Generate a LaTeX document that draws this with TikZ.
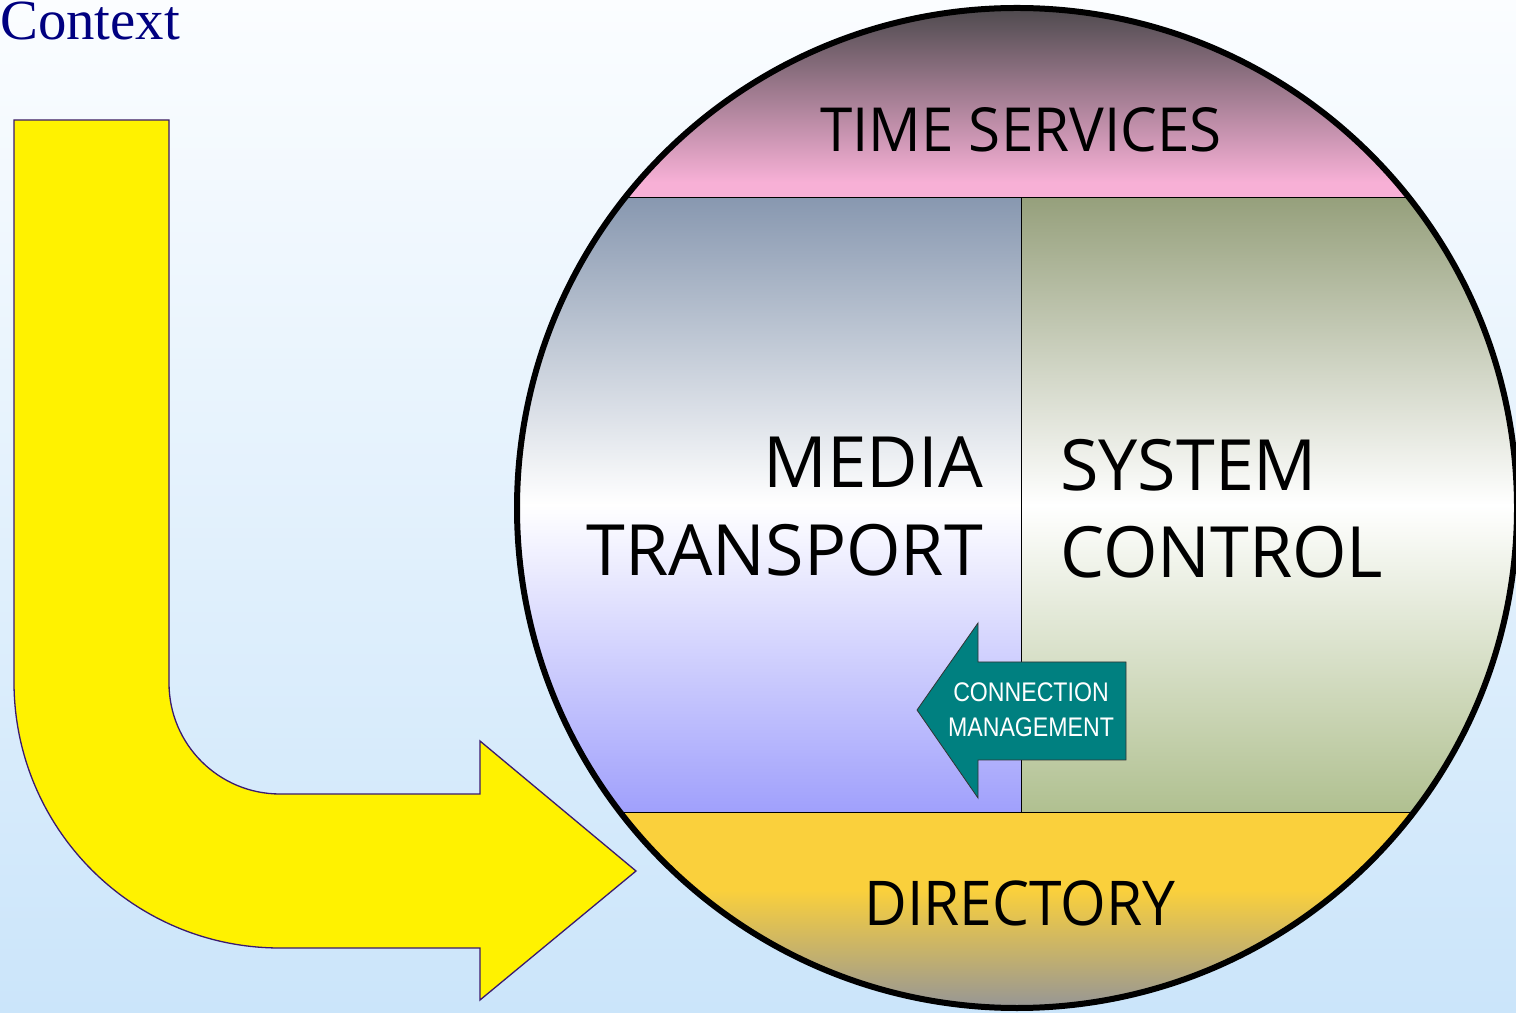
\documentclass[tikz,border=0pt]{standalone}
\usepackage{fontspec}
\setmainfont{Liberation Serif}
\newfontfamily\osans{Open Sans}
\newfontfamily\arialf{Liberation Sans}
\usetikzlibrary{shapes.geometric}
\definecolor{bgtop}{HTML}{FBFDFF}
\definecolor{bgbot}{HTML}{CBE5FA}
\definecolor{pinkdark}{HTML}{4E4A4E}
\definecolor{pinklight}{HTML}{F7B0D6}
\definecolor{mtop}{HTML}{8898B0}
\definecolor{mbot}{HTML}{A0A0FC}
\definecolor{stop}{HTML}{96A07C}
\definecolor{sbot}{HTML}{B0C090}
\definecolor{diryel}{HTML}{FAD03C}
\definecolor{dirgray}{HTML}{969696}
\definecolor{arrowline}{HTML}{3A1A70}
\definecolor{tealc}{HTML}{008080}
\definecolor{ctxblue}{HTML}{000080}
\tikzset{
  bigtext/.style={inner sep=0pt, font=\osans\fontsize{71}{80}\selectfont, text=black},
  bandtext/.style={inner sep=0pt, text=black},
  cmtext/.style={inner sep=0pt, text=white, font=\arialf\fontsize{27}{30}\selectfont},
  sepline/.style={draw=black, line width=1bp}
}
\begin{document}
\begin{tikzpicture}[x=1bp,y=1bp]
\useasboundingbox (0,0) rectangle (1516,1012);
% background
\fill[top color=bgtop, bottom color=bgbot] (0,0) rectangle (1516,1012);

% circle content
\begin{scope}
  \clip (1017,504) circle (500);
  \fill[top color=pinkdark, bottom color=pinklight] (500,830) rectangle (1530,1004);
  \fill[pinklight] (500,814) rectangle (1530,830);
  \fill[top color=mtop, bottom color=mbot, middle color=white] (500,200) rectangle (1021,814);
  \fill[top color=stop, bottom color=sbot, middle color=white] (1021,200) rectangle (1530,814);
  \fill[diryel] (500,122) rectangle (1530,200);
  \fill[top color=diryel, bottom color=dirgray] (500,4) rectangle (1530,122);
  \draw[sepline] (500,814) -- (1530,814);
  \draw[sepline] (500,200) -- (1530,200);
  \draw[sepline] (1021,200) -- (1021,814);
\end{scope}
\draw[line width=6bp, black] (1017,504) circle (500);

% yellow bent arrow
\draw[fill=yellow, draw=arrowline, line width=1.3bp]
  (14,892) -- (169,892) -- (169,329)
  arc[start angle=180, end angle=270, radius=111]
  -- (480,218) -- (480,271) -- (636,141) -- (480,12) -- (480,64) -- (280,64)
  arc[start angle=270, end angle=180, radius=266]
  -- cycle;

% connection management arrow
\draw[fill=tealc, draw=black!80, line width=0.8bp]
  (917,302) -- (978,389) -- (978,350) -- (1126,350) -- (1126,252) -- (978,252) -- (978,214) -- cycle;

% texts
\node[anchor=base west, inner sep=0pt, text=ctxblue, font=\fontsize{57}{60}\selectfont] (ctx) at (0,972) {Context};
\node[anchor=base, bandtext, font=\osans\fontsize{61}{66}\selectfont] (time) at (1021,860) {\scalebox{0.96}[1]{TIME SERVICES}};
\node[anchor=base east, bigtext] (media) at (983,524) {MEDIA};
\node[anchor=base east, bigtext] (transport) at (983,436) {\scalebox{0.99}[1]{TRANSPORT}};
\node[anchor=base west, bigtext] (system) at (1060,521) {\scalebox{0.99}[1]{SYSTEM}};
\node[anchor=base west, bigtext] (control) at (1060,434) {\scalebox{0.99}[1]{CONTROL}};
\node[anchor=base, bandtext, font=\osans\fontsize{62}{66}\selectfont] (dir) at (1020,87) {\scalebox{0.95}[1]{DIRECTORY}};
\node[anchor=base, cmtext] (conn) at (1031,310) {\scalebox{0.86}[1]{CONNECTION}};
\node[anchor=base, cmtext] (mgmt) at (1031,275) {\scalebox{0.86}[1]{MANAGEMENT}};
\end{tikzpicture}
\end{document}
